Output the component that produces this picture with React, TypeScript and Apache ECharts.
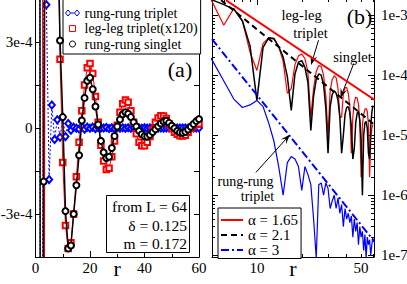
import React, { useEffect, useRef } from "react";
import * as echarts from "echarts";

const FONT = "'Liberation Serif', 'DejaVu Serif', serif";
const RED = "#ff0000";
const BLACK = "#000000";
const BLUE = "#0000ff";

// distance r (sites)
const distances = [
  1, 2, 3, 4, 5, 6, 7, 8, 9, 10, 11, 12, 13, 14, 15, 16, 17, 18, 19, 20,
  21, 22, 23, 24, 25, 26, 27, 28, 29, 30, 31, 32, 33, 34, 35, 36, 37, 38, 39, 40,
  41, 42, 43, 44, 45, 46, 47, 48, 49, 50, 51, 52, 53, 54, 55, 56, 57, 58, 59, 60,
];

// rung-rung triplet correlation
const rungTriplet = [
  6e-3, -3e-3, 1.2e-3, 4.3e-4, -1.8e-4, 8e-5, -4e-5, 2.9e-5, -3.2e-5, 3.8e-5,
  -3e-5, 1.6e-5, -8e-6, 3e-6, -1e-6, -3.5e-6, 4.4e-6, -4e-6, 3e-6, -1.2e-6,
  3e-6, -2.2e-6, 1.5e-6, -4e-7, 9e-8, 1.5e-6, -1.6e-6, 1e-6, -1.6e-6, 1.3e-6,
  -6e-7, 8e-7, -1e-6, 6e-7, -9e-7, 5e-7, -7e-7, 3e-7, -6e-7, 4e-7,
  -5e-7, 3.5e-7, -4.5e-7, 2e-7, -4e-7, 2.5e-7, -3.5e-7, 1.5e-7, -3e-7, 2e-7,
  -2.5e-7, 1.2e-7, -2.2e-7, 9e-8, -2e-7, 1.5e-7, -1.8e-7, 1e-7, -1.5e-7, 2e-7,
];

// leg-leg triplet correlation (x120)
const legLegTriplet120 = [
  1e-2, 4e-3, -2e-3, 3e-3, 1.7e-3, 6.8e-4, 1.3e-3, 8e-4, 2.4e-4, -1.2e-4,
  -3.4e-4, -4.2e-4, -4.0e-4, -3.0e-4, -1.7e-4, -0.5e-4, 0.6e-4, 1.5e-4, 2.1e-4, 2.25e-4,
  1.9e-4, 1.1e-4, 0.2e-4, -0.6e-4, -1.15e-4, -1.45e-4, -1.4e-4, -1.0e-4, -0.45e-4, 0.1e-4,
  0.55e-4, 0.85e-4, 0.98e-4, 0.9e-4, 0.6e-4, 0.2e-4, -0.2e-4, -0.5e-4, -0.62e-4, -0.62e-4,
  -0.5e-4, -0.3e-4, -0.05e-4, 0.2e-4, 0.35e-4, 0.43e-4, 0.42e-4, 0.33e-4, 0.15e-4, -0.02e-4,
  -0.15e-4, -0.22e-4, -0.27e-4, -0.28e-4, -0.25e-4, -0.15e-4, -0.02e-4, 0.08e-4, 0.13e-4, 0.15e-4,
];

// rung-rung singlet correlation
const rungSinglet = [
  8e-3, -4e-3, -1.87e-4, 2.5e-3, 1.8e-3, 1.5e-3, 1.26e-3, 8e-4, 3.05e-4, 3.8e-5,
  -2.9e-4, -4.2e-4, -4.1e-4, -3.0e-4, -2.0e-4, -0.95e-4, 0.26e-4, 1.05e-4, 1.65e-4, 1.75e-4,
  1.35e-4, 0.75e-4, 0.12e-4, -0.45e-4, -0.85e-4, -1.05e-4, -1.0e-4, -0.7e-4, -0.28e-4, 0.05e-4,
  0.3e-4, 0.48e-4, 0.55e-4, 0.5e-4, 0.38e-4, 0.2e-4, 0.05e-4, -0.1e-4, -0.22e-4, -0.29e-4,
  -0.3e-4, -0.24e-4, -0.14e-4, -0.04e-4, 0.06e-4, 0.16e-4, 0.23e-4, 0.25e-4, 0.18e-4, 0.08e-4,
  -0.01e-4, -0.1e-4, -0.16e-4, -0.17e-4, -0.13e-4, -0.05e-4, 0.04e-4, 0.14e-4, 0.24e-4, 0.31e-4,
];

// power-law guide lines (end points)
const fitLegLegR = [6.2, 62];
const fitLegLegV = [1.78e-3, 3.83e-5];
const fitSingletR = [5.75, 62];
const fitSingletV = [1.78e-3, 1.47e-5];
const fitRungR = [5, 62];
const fitRungV = [4.0e-4, 1.64e-7];

// arrows in panel b: from (r, value) to (r, value)
const arrowFromR = [25.9, 44.6, 9.85];
const arrowFromV = [3.83e-4, 1.57e-4, 2.4e-6];
const arrowToR = [23.6, 37.3, 15.85];
const arrowToV = [1.78e-4, 4.95e-5, 8.9e-6];

// axes
const xTicksA = [0, 20, 40, 60];
const yLabelValuesA = [-3e-4, 0, 3e-4];
const yLabelTextA = ["-3e-4", "0", "3e-4"];
const xMajorTicksB = [10];
const xLabelTicksB = [10, 50];
const xMinorTicksB = [6, 7, 8, 9, 20, 30, 40, 50, 60];
const yDecadesB = [-7, -6, -5, -4, -3];
const yMinorMultipliers = [2, 3, 4, 5, 6, 7, 8, 9];
const yMinorDecades = [-8, -7, -6, -5, -4, -3];

const legendA = ["rung-rung triplet", "leg-leg triplet(x120)", "rung-rung singlet"];
const legendB = ["α = 1.65", "α = 2.1", "α = 3"];

const L10 = (v: number) => Math.log10(v);
const logPoint = (r: number, v: number) => [Math.log10(r), Math.log10(Math.max(Math.abs(v), 1e-12))];

function buildOption() {
  const linA = (vals: number[]) => distances.map((r, i) => [r, vals[i]]);
  const logB = (vals: number[]) => distances.map((r, i) => logPoint(r, vals[i]));
  const fit = (rs: number[], vs: number[]) => rs.map((r, i) => logPoint(r, vs[i]));

  const xMinB = L10(5);
  const xMaxB = L10(61);
  const yMinB = -7.03;
  const yMaxB = -2.73;
  const yMinorB: number[] = [];
  yMinorDecades.forEach((e) =>
    yMinorMultipliers.forEach((k) => {
      const v = L10(k) + e;
      if (v > yMinB && v < yMaxB) yMinorB.push(v);
    })
  );

  const line = { show: true, onZero: false, lineStyle: { color: BLACK, width: 1 } };
  const noLine = { show: false, onZero: false };
  const tick = (len: number, values?: number[]) => ({
    show: true,
    inside: true,
    length: len,
    lineStyle: { color: BLACK, width: 1 },
    ...(values ? { customValues: values } : {}),
  });
  const noLabel = { show: false };
  const noSplit = { show: false };
  const labelBase = { color: BLACK, fontSize: 15, fontFamily: FONT };
  const nameStyle = { color: BLACK, fontSize: 22, lineHeight: 22, fontFamily: FONT, verticalAlign: "bottom" };

  const xAxis: any[] = [
    {
      gridIndex: 0, type: "value", position: "bottom", min: 0, max: 60, interval: 20,
      axisLine: line, axisTick: tick(6), splitLine: noSplit,
      minorTick: { show: true, splitNumber: 2, length: 3, lineStyle: { color: BLACK, width: 1 } },
      axisLabel: { ...labelBase, margin: 3, customValues: xTicksA },
      name: "r", nameLocation: "middle", nameGap: 22, nameMoveOverlap: false, nameTextStyle: nameStyle,
    },
    {
      gridIndex: 0, type: "value", position: "top", min: 0, max: 60, interval: 20,
      axisLine: line, axisTick: tick(6), splitLine: noSplit,
      minorTick: { show: true, splitNumber: 2, length: 3, lineStyle: { color: BLACK, width: 1 } },
      axisLabel: noLabel,
    },
    {
      gridIndex: 1, type: "value", position: "bottom", min: xMinB, max: xMaxB,
      axisLine: line, axisTick: tick(6, xMajorTicksB.map(L10)), splitLine: noSplit,
      axisLabel: {
        ...labelBase, margin: 3, customValues: xLabelTicksB.map(L10),
        formatter: (v: number) => String(Math.round(Math.pow(10, v))),
      },
      name: "r", nameLocation: "middle", nameGap: 22, nameMoveOverlap: false, nameTextStyle: nameStyle,
    },
    {
      gridIndex: 1, type: "value", position: "bottom", min: xMinB, max: xMaxB,
      axisLine: noLine, axisTick: tick(3, xMinorTicksB.map(L10)), splitLine: noSplit, axisLabel: noLabel,
    },
    {
      gridIndex: 1, type: "value", position: "top", min: xMinB, max: xMaxB,
      axisLine: line, axisTick: tick(6, xMajorTicksB.map(L10)), splitLine: noSplit, axisLabel: noLabel,
    },
    {
      gridIndex: 1, type: "value", position: "top", min: xMinB, max: xMaxB,
      axisLine: noLine, axisTick: tick(3, xMinorTicksB.map(L10)), splitLine: noSplit, axisLabel: noLabel,
    },
  ];

  const yAxis: any[] = [
    {
      gridIndex: 0, type: "value", position: "left", min: -4.5e-4, max: 4.5e-4, interval: 1.5e-4,
      axisLine: line, axisTick: tick(5), splitLine: noSplit,
      axisLabel: {
        ...labelBase, margin: 3, customValues: yLabelValuesA,
        formatter: (v: number) => {
          const i = yLabelValuesA.findIndex((t) => Math.abs(t - v) < 1e-6);
          return i >= 0 ? yLabelTextA[i] : "";
        },
      },
    },
    {
      gridIndex: 0, type: "value", position: "right", min: -4.5e-4, max: 4.5e-4, interval: 1.5e-4,
      axisLine: line, axisTick: tick(5), splitLine: noSplit, axisLabel: noLabel,
    },
    {
      gridIndex: 1, type: "value", position: "right", min: yMinB, max: yMaxB,
      axisLine: line, axisTick: tick(6, yDecadesB), splitLine: noSplit,
      axisLabel: {
        ...labelBase, margin: 7, customValues: yDecadesB,
        formatter: (v: number) => "1e" + Math.round(v),
      },
    },
    {
      gridIndex: 1, type: "value", position: "right", min: yMinB, max: yMaxB,
      axisLine: noLine, axisTick: tick(3, yMinorB), splitLine: noSplit, axisLabel: noLabel,
    },
    {
      gridIndex: 1, type: "value", position: "left", min: yMinB, max: yMaxB,
      axisLine: line, axisTick: tick(6, yDecadesB), splitLine: noSplit, axisLabel: noLabel,
    },
    {
      gridIndex: 1, type: "value", position: "left", min: yMinB, max: yMaxB,
      axisLine: noLine, axisTick: tick(3, yMinorB), splitLine: noSplit, axisLabel: noLabel,
    },
  ];

  const arrows = arrowFromR.map((r, i) => [
    { coord: logPoint(r, arrowFromV[i]) },
    { coord: logPoint(arrowToR[i], arrowToV[i]) },
  ]);

  const series: any[] = [
    {
      type: "line", name: legendA[0], xAxisIndex: 0, yAxisIndex: 0, data: linA(rungTriplet), z: 2,
      symbol: "emptyDiamond", symbolSize: [6, 7],
      lineStyle: { color: BLUE, width: 1, type: [2, 2] },
      itemStyle: { color: BLUE, borderColor: BLUE, borderWidth: 1 },
      emphasis: { disabled: true },
    },
    {
      type: "line", name: legendA[1], xAxisIndex: 0, yAxisIndex: 0, data: linA(legLegTriplet120), z: 3,
      symbol: "emptyRect", symbolSize: 5.5,
      lineStyle: { color: RED, width: 1 },
      itemStyle: { color: RED, borderColor: RED, borderWidth: 1 },
      emphasis: { disabled: true },
    },
    {
      type: "line", name: legendA[2], xAxisIndex: 0, yAxisIndex: 0, data: linA(rungSinglet), z: 4,
      symbol: "emptyCircle", symbolSize: 6,
      lineStyle: { color: BLACK, width: 1.5 },
      itemStyle: { color: BLACK, borderColor: BLACK, borderWidth: 1 },
      emphasis: { disabled: true },
    },
    {
      type: "line", name: "|leg-leg triplet|", xAxisIndex: 2, yAxisIndex: 2, data: logB(legLegTriplet120), z: 2,
      symbol: "none", lineStyle: { color: RED, width: 1.2 }, itemStyle: { color: RED },
      emphasis: { disabled: true },
    },
    {
      type: "line", name: "|rung-rung singlet|", xAxisIndex: 2, yAxisIndex: 2, data: logB(rungSinglet), z: 3,
      symbol: "none", lineStyle: { color: BLACK, width: 1.5 }, itemStyle: { color: BLACK },
      emphasis: { disabled: true },
    },
    {
      type: "line", name: "|rung-rung triplet|", xAxisIndex: 2, yAxisIndex: 2, data: logB(rungTriplet), z: 3,
      symbol: "none", lineStyle: { color: BLUE, width: 1.2 }, itemStyle: { color: BLUE },
      emphasis: { disabled: true },
    },
    {
      type: "line", name: legendB[0], xAxisIndex: 2, yAxisIndex: 2, data: fit(fitLegLegR, fitLegLegV), z: 5,
      symbol: "none", lineStyle: { color: RED, width: 2 }, itemStyle: { color: RED },
      emphasis: { disabled: true },
    },
    {
      type: "line", name: legendB[1], xAxisIndex: 2, yAxisIndex: 2, data: fit(fitSingletR, fitSingletV), z: 5,
      symbol: "none", lineStyle: { color: BLACK, width: 2, type: [6, 4] }, itemStyle: { color: BLACK },
      emphasis: { disabled: true },
    },
    {
      type: "line", name: legendB[2], xAxisIndex: 2, yAxisIndex: 2, data: fit(fitRungR, fitRungV), z: 5,
      symbol: "none", lineStyle: { color: BLUE, width: 2, type: [8, 3, 2, 3] }, itemStyle: { color: BLUE },
      emphasis: { disabled: true },
      markLine: {
        silent: true,
        symbol: ["none", "path://M5,0 L10,12 L5,7 L0,12 Z"],
        symbolSize: [7, 10],
        lineStyle: { color: BLACK, width: 1, type: "solid" },
        label: { show: false },
        emphasis: { disabled: true },
        data: arrows,
      },
    },
  ];

  const legendText = { color: BLACK, fontFamily: FONT };

  const legend: any[] = [
    {
      selectedMode: false, orient: "vertical", left: 63, top: -1,
      padding: [7, 3, 3, 2], itemGap: 1.5, itemWidth: 14, itemHeight: 6,
      symbolKeepAspect: true,
      backgroundColor: "#fff", borderColor: BLACK, borderWidth: 1,
      textStyle: { ...legendText, fontSize: 14, lineHeight: 14 },
      data: [
        {
          name: legendA[0],
          icon: "path://M0,3L2.5,0L5,3L2.5,6Z M5,3L9,3 M9,3L11.5,0L14,3L11.5,6Z",
          itemStyle: { color: "#fff", borderColor: BLUE, borderWidth: 1 },
        },
        { name: legendA[1], icon: "path://M0,0L6,0L6,6L0,6Z", itemStyle: { color: "#fff", borderColor: RED, borderWidth: 1 } },
        { name: legendA[2], icon: "circle", itemStyle: { color: "#fff", borderColor: BLACK, borderWidth: 1 } },
      ],
    },
    {
      selectedMode: false, orient: "vertical", left: 218, top: 208,
      padding: [4.5, 3, 1, 2], itemGap: 0, itemWidth: 22, itemHeight: 8,
      backgroundColor: "#fff", borderColor: BLACK, borderWidth: 1,
      itemStyle: { opacity: 0 },
      textStyle: { ...legendText, fontSize: 15, lineHeight: 13 },
      data: legendB,
    },
  ];

  const txt = (text: string, x: number, y: number, size: number, align = "center") => ({
    type: "text", x, y, z: 100,
    style: { text, fill: BLACK, fontSize: size, fontFamily: FONT, align, verticalAlign: "middle" },
  });

  const graphic: any[] = [
    txt("(a)", 180, 69, 22),
    txt("(b)", 359.5, 16, 22),
    {
      type: "rect", z: 99,
      shape: { x: 106.5, y: 195.5, width: 83, height: 57 },
      style: { fill: "#fff", stroke: BLACK, lineWidth: 1 },
    },
    txt("from L = 64", 187, 206.5, 15.5, "right"),
    txt("δ = 0.125", 187, 225, 15.5, "right"),
    txt("m = 0.172", 187, 243, 15.5, "right"),
    txt("leg-leg", 301.5, 15, 14.5),
    txt("triplet", 310.5, 33, 14.5),
    txt("singlet", 352.5, 57, 14.5),
    txt("rung-rung", 245.5, 181.5, 14),
    txt("triplet", 257.5, 196, 14),
  ];

  return {
    animation: false,
    backgroundColor: "#fff",
    textStyle: { fontFamily: FONT },
    grid: [
      { left: 35.5, top: -1, width: 163.5, height: 258, containLabel: false, outerBoundsMode: "none" },
      { left: 212, top: -1, width: 162, height: 258, containLabel: false, outerBoundsMode: "none" },
    ],
    xAxis,
    yAxis,
    legend,
    series,
    graphic,
  };
}

export default function App() {
  const ref = useRef<HTMLDivElement>(null);
  useEffect(() => {
    if (!ref.current) return;
    const chart = echarts.init(ref.current, null, { renderer: "svg" });
    chart.setOption(buildOption() as any);
    return () => chart.dispose();
  }, []);
  return (
    <div
      ref={ref}
      style={{ position: "fixed", left: 0, top: 0, width: 407, height: 284, background: "#fff" }}
    />
  );
}
